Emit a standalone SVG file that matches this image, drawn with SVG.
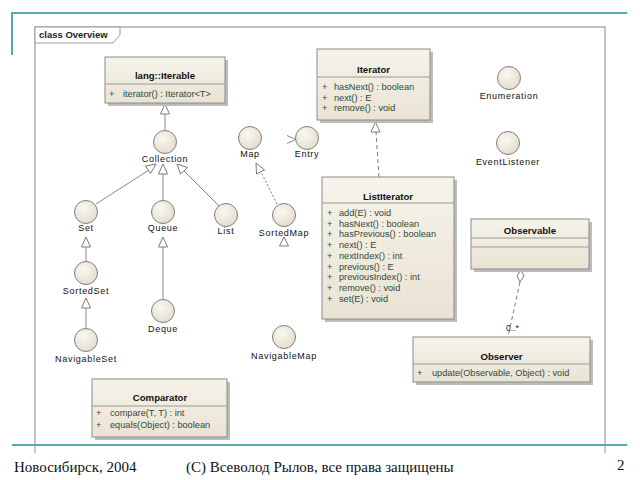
<svg xmlns="http://www.w3.org/2000/svg" width="640" height="480" viewBox="0 0 640 480">
<defs>
<linearGradient id="bg" x1="0" y1="0" x2="0" y2="1"><stop offset="0" stop-color="#f6f3ea"/><stop offset="1" stop-color="#e9e3d3"/></linearGradient>
<radialGradient id="cg" cx="0.4" cy="0.35" r="0.7"><stop offset="0" stop-color="#faf8f2"/><stop offset="1" stop-color="#e4dccb"/></radialGradient>
</defs>
<style>
.box{fill:url(#bg);stroke:#8c8c8c;stroke-width:1}
.sh{fill:#bcbcbc}
.div{stroke:#9a9a9a;stroke-width:1}
.ttl{font-family:"Liberation Sans",Arial,sans-serif;font-size:9.6px;font-weight:bold;fill:#111;text-anchor:middle}
.itm{font-family:"Liberation Sans",Arial,sans-serif;font-size:9.2px;fill:#2f4a3c}
.ifc{fill:url(#cg);stroke:#7f7f7f;stroke-width:1}
.lbl{font-family:"Liberation Sans",Arial,sans-serif;font-size:9px;fill:#111;text-anchor:middle;letter-spacing:0.7px}
.ln{stroke:#8a8a8a;stroke-width:1;fill:none}
.dash{stroke:#7a7a7a;stroke-width:1;fill:none;stroke-dasharray:4 3}
.dot{stroke:#7a7a7a;stroke-width:1;fill:none;stroke-dasharray:2 2}
.tri{fill:#fff;stroke:#7a7a7a;stroke-width:1}
.teal{stroke:#55a9ae;stroke-width:2;fill:none}
.foot{font-family:"Liberation Serif","Times New Roman",serif;font-size:15px;fill:#111}
</style>
<rect width="640" height="480" fill="#fff"/>
<!-- slide decorations -->
<path class="teal" d="M12,55 V13 H627"/>
<!-- frame -->
<rect x="35" y="27" width="570" height="425" fill="none" stroke="#9a9a9a" stroke-width="1.2"/>
<rect x="12" y="444" width="616" height="10" fill="#fff"/>
<line class="teal" x1="12" y1="445" x2="627" y2="445"/>
<line x1="35" y1="445" x2="35" y2="453" stroke="#9a9a9a"/>
<line x1="605" y1="445" x2="605" y2="453" stroke="#9a9a9a"/>
<path d="M35,27 H120 V35 L113,43 H35 Z" fill="#fff" stroke="#9a9a9a"/>
<text x="39" y="38" font-family="Liberation Sans,Arial,sans-serif" font-size="9.5" font-weight="bold" fill="#222">class Overview</text>

<!-- connectors -->
<g id="connectors">
<line class="ln" x1="165" y1="130" x2="165" y2="114"/>
<polygon class="tri" points="165,104 160.5,114 169.5,114"/>
<line class="ln" x1="96" y1="204" x2="149" y2="170"/>
<polygon class="tri" points="156,164 145.5,166 150.5,173.5"/>
<line class="ln" x1="163" y1="200" x2="163" y2="174"/>
<polygon class="tri" points="163,164 158.5,174 167.5,174"/>
<line class="ln" x1="219" y1="206" x2="184" y2="171"/>
<polygon class="tri" points="177,164 180.5,174 187.5,167.5"/>
<line class="ln" x1="86" y1="261" x2="86" y2="247"/>
<polygon class="tri" points="86,237 81.5,247 90.5,247"/>
<line class="ln" x1="86" y1="328" x2="86" y2="308"/>
<polygon class="tri" points="86,298 81.5,308 90.5,308"/>
<line class="ln" x1="163" y1="299" x2="163" y2="247"/>
<polygon class="tri" points="163,237 158.5,247 167.5,247"/>
<line class="dot" x1="277" y1="204" x2="261" y2="172"/>
<polygon class="tri" points="256,163 256.5,174 264.5,170"/>
<polygon class="tri" points="284,237 279.5,246 288.5,246"/>
<path class="ln" d="M287,135.5 L296,139.5 L287,143.5"/>
<line class="dash" x1="379" y1="177" x2="376" y2="132"/>
<polygon class="tri" points="375.5,122 371,132 380,132"/>
<line class="dash" x1="520" y1="282" x2="508" y2="337"/>
<polygon class="tri" points="521,270 517,276 520,282 524,276"/>
<text x="506" y="331" font-family="Liberation Sans,Arial,sans-serif" font-size="8.6" fill="#222">0..*</text>
</g>

<!-- class boxes -->
<g id="Iterable">
<rect class="sh" x="108" y="60" width="120" height="46"/>
<rect class="box" x="105" y="57" width="120" height="46"/>
<line class="div" x1="105" y1="84" x2="225" y2="84"/>
<text class="ttl" x="165" y="79">lang::Iterable</text>
<text class="itm" x="109" y="97">+</text><text class="itm" x="123" y="97">iterator() : Iterator&lt;T&gt;</text>
</g>
<g id="Iterator">
<rect class="sh" x="320" y="52" width="113" height="71"/>
<rect class="box" x="317" y="49" width="113" height="71"/>
<line class="div" x1="317" y1="77" x2="430" y2="77"/>
<text class="ttl" x="373.5" y="73">Iterator</text>
<text class="itm" x="322" y="90">+</text><text class="itm" x="334" y="90">hasNext() : boolean</text>
<text class="itm" x="322" y="100.5">+</text><text class="itm" x="334" y="100.5">next() : E</text>
<text class="itm" x="322" y="111">+</text><text class="itm" x="334" y="111">remove() : void</text>
</g>
<g id="ListIterator">
<rect class="sh" x="325" y="180" width="132" height="142"/>
<rect class="box" x="322" y="177" width="132" height="142"/>
<line class="div" x1="322" y1="203" x2="454" y2="203"/>
<text class="ttl" x="388" y="200">ListIterator</text>
<text class="itm" x="327" y="216">+</text><text class="itm" x="339" y="216">add(E) : void</text>
<text class="itm" x="327" y="226.7">+</text><text class="itm" x="339" y="226.7">hasNext() : boolean</text>
<text class="itm" x="327" y="237.4">+</text><text class="itm" x="339" y="237.4">hasPrevious() : boolean</text>
<text class="itm" x="327" y="248.1">+</text><text class="itm" x="339" y="248.1">next() : E</text>
<text class="itm" x="327" y="258.8">+</text><text class="itm" x="339" y="258.8">nextIndex() : int</text>
<text class="itm" x="327" y="269.5">+</text><text class="itm" x="339" y="269.5">previous() : E</text>
<text class="itm" x="327" y="280.2">+</text><text class="itm" x="339" y="280.2">previousIndex() : int</text>
<text class="itm" x="327" y="290.9">+</text><text class="itm" x="339" y="290.9">remove() : void</text>
<text class="itm" x="327" y="301.6">+</text><text class="itm" x="339" y="301.6">set(E) : void</text>
</g>
<g id="Observable">
<rect class="sh" x="474" y="222" width="118" height="50"/>
<rect class="box" x="471" y="219" width="118" height="50"/>
<line class="div" x1="471" y1="238" x2="589" y2="238"/>
<line class="div" x1="471" y1="247" x2="589" y2="247"/>
<text class="ttl" x="530" y="234">Observable</text>
</g>
<g id="Observer">
<rect class="sh" x="416" y="340" width="177" height="45"/>
<rect class="box" x="413" y="337" width="177" height="45"/>
<line class="div" x1="413" y1="364" x2="590" y2="364"/>
<text class="ttl" x="501.5" y="360">Observer</text>
<text class="itm" x="417" y="376">+</text><text class="itm" x="432" y="376">update(Observable, Object) : void</text>
</g>
<g id="Comparator">
<rect class="sh" x="95" y="382" width="135" height="58"/>
<rect class="box" x="92" y="379" width="135" height="58"/>
<line class="div" x1="92" y1="406" x2="227" y2="406"/>
<text class="ttl" x="160" y="401">Comparator</text>
<text class="itm" x="96" y="416">+</text><text class="itm" x="110" y="416">compare(T, T) : int</text>
<text class="itm" x="96" y="428">+</text><text class="itm" x="110" y="428">equals(Object) : boolean</text>
</g>

<!-- interfaces -->
<g id="Collection"><circle class="ifc" cx="165" cy="142" r="11.5"/><text class="lbl" x="165" y="162">Collection</text></g>
<g id="Map"><circle class="ifc" cx="250" cy="138" r="11.5"/><text class="lbl" x="250" y="157">Map</text></g>
<g id="Entry"><circle class="ifc" cx="307" cy="138" r="11.5"/><text class="lbl" x="307" y="157">Entry</text></g>
<g id="Set"><circle class="ifc" cx="86" cy="212" r="11.5"/><text class="lbl" x="86" y="231">Set</text></g>
<g id="Queue"><circle class="ifc" cx="163" cy="212" r="11.5"/><text class="lbl" x="163" y="231">Queue</text></g>
<g id="List"><circle class="ifc" cx="226" cy="215" r="11.5"/><text class="lbl" x="226" y="234">List</text></g>
<g id="SortedMap"><circle class="ifc" cx="284" cy="215" r="11.5"/><text class="lbl" x="284" y="236">SortedMap</text></g>
<g id="SortedSet"><circle class="ifc" cx="86" cy="273" r="11.5"/><text class="lbl" x="86" y="294">SortedSet</text></g>
<g id="NavigableSet"><circle class="ifc" cx="86" cy="340" r="11.5"/><text class="lbl" x="86" y="362">NavigableSet</text></g>
<g id="Deque"><circle class="ifc" cx="163" cy="311" r="11.5"/><text class="lbl" x="163" y="332">Deque</text></g>
<g id="NavigableMap"><circle class="ifc" cx="284" cy="337" r="11.5"/><text class="lbl" x="284" y="359">NavigableMap</text></g>
<g id="Enumeration"><circle class="ifc" cx="509" cy="78" r="11.5"/><text class="lbl" x="509" y="99">Enumeration</text></g>
<g id="EventListener"><circle class="ifc" cx="508" cy="143" r="11.5"/><text class="lbl" x="508" y="165">EventListener</text></g>

<!-- footer -->
<text class="foot" x="14" y="472">Новосибирск, 2004</text>
<text class="foot" x="186" y="472">(С) Всеволод Рылов, все права защищены</text>
<text class="foot" x="617" y="470">2</text>
</svg>
